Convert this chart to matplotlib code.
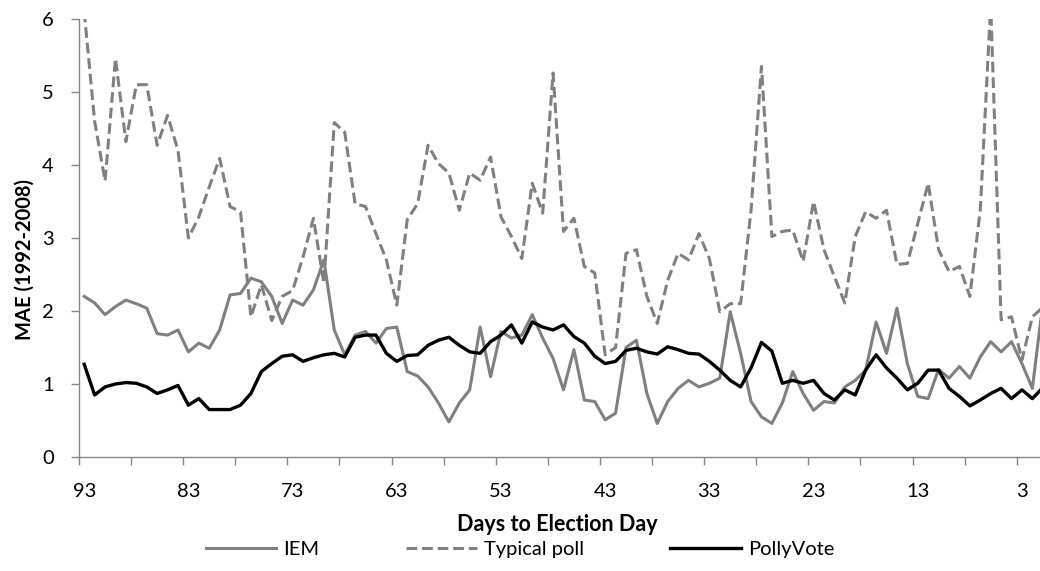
import numpy as np
import matplotlib
matplotlib.use('Agg')
import matplotlib.pyplot as plt

plt.rcParams['font.family'] = ['Lato', 'DejaVu Sans']

days = list(range(93, 0, -1))

iem = [2.2, 2.11, 1.95, 2.06, 2.15, 2.1, 2.04, 1.69, 1.67, 1.74,
       1.44, 1.56, 1.49, 1.74, 2.22, 2.24, 2.45, 2.40, 2.2, 1.83,
       2.15, 2.08, 2.29, 2.7, 1.74, 1.40, 1.67, 1.72, 1.56, 1.76,
       1.78, 1.17, 1.11, 0.96, 0.74, 0.48, 0.74, 0.92, 1.78, 1.10,
       1.72, 1.63, 1.67, 1.95, 1.63, 1.35, 0.92, 1.47, 0.78, 0.76,
       0.51, 0.6, 1.5, 1.6, 0.87, 0.46, 0.76, 0.94, 1.05, 0.96,
       1.01, 1.08, 1.99, 1.42, 0.76, 0.55, 0.46, 0.74, 1.17, 0.87,
       0.64, 0.76, 0.74, 0.96, 1.05, 1.19, 1.85, 1.42, 2.04, 1.28,
       0.83, 0.8, 1.2, 1.08, 1.24, 1.08, 1.37, 1.58, 1.44, 1.58,
       1.28, 0.94, 2.1]

typical_poll = [6.1, 4.6, 3.78, 5.46, 4.32, 5.1, 5.1, 4.27, 4.68, 4.2,
                3.0, 3.29, 3.7, 4.09, 3.43, 3.36, 1.92, 2.36, 1.87, 2.2,
                2.28, 2.74, 3.27, 2.38, 4.58, 4.45, 3.47, 3.43, 3.06, 2.7,
                2.08, 3.25, 3.47, 4.27, 4.02, 3.89, 3.38, 3.89, 3.79, 4.11,
                3.29, 3.02, 2.72, 3.75, 3.34, 5.26, 3.09, 3.27, 2.61, 2.52,
                1.4, 1.5, 2.79, 2.84, 2.2, 1.83, 2.42, 2.79, 2.7, 3.06,
                2.72, 1.99, 2.1, 2.1, 3.38, 5.35, 3.02, 3.09, 3.11, 2.68,
                3.5, 2.84, 2.47, 2.11, 3.02, 3.36, 3.27, 3.38, 2.64, 2.65,
                3.2, 3.75, 2.84, 2.54, 2.61, 2.2, 3.38, 6.2, 1.88, 1.92,
                1.33, 1.92, 2.05]

pollyvote = [1.27, 0.85, 0.96, 1.0, 1.02, 1.01, 0.96, 0.87, 0.92, 0.98,
             0.71, 0.80, 0.65, 0.65, 0.65, 0.71, 0.87, 1.17, 1.28, 1.38,
             1.40, 1.31, 1.36, 1.40, 1.42, 1.37, 1.64, 1.67, 1.67, 1.42,
             1.31, 1.39, 1.40, 1.53, 1.60, 1.64, 1.53, 1.44, 1.42, 1.58,
             1.67, 1.81, 1.56, 1.85, 1.78, 1.74, 1.81, 1.65, 1.56, 1.38,
             1.28, 1.31, 1.46, 1.49, 1.44, 1.41, 1.51, 1.47, 1.42, 1.41,
             1.31, 1.19, 1.05, 0.96, 1.22, 1.57, 1.45, 1.01, 1.05, 1.01,
             1.05, 0.87, 0.78, 0.92, 0.85, 1.19, 1.40, 1.22, 1.08, 0.92,
             1.01, 1.19, 1.19, 0.94, 0.83, 0.70, 0.78, 0.87, 0.94, 0.80,
             0.92, 0.80, 0.95]

tick_days = [93, 83, 73, 63, 53, 43, 33, 23, 13, 3]

gray = '#808080'
axis_gray = '#868686'
fs = 14.5

fig = plt.figure(figsize=(10.4, 5.71), dpi=100)
ax = fig.add_axes([79 / 1040, 114 / 571, 969 / 1040, 438 / 571])

ax.plot(days, iem, color=gray, lw=2.2, solid_joinstyle='round', label='IEM')
ax.plot(days, typical_poll, color=gray, lw=2.2, dashes=(3.5, 1.6), label='Typical poll')
ax.plot(days, pollyvote, color='black', lw=2.4, solid_joinstyle='round', label='PollyVote')

ax.set_xlim(93.5, 0.5)
ax.set_ylim(0, 6)

for s in ['top', 'right']:
    ax.spines[s].set_visible(False)
for s in ['left', 'bottom']:
    ax.spines[s].set_color(axis_gray)
    ax.spines[s].set_linewidth(1.0)

ax.set_yticks(range(0, 7))
ax.tick_params(axis='y', direction='out', length=6, width=1, color=axis_gray,
               labelsize=fs, pad=12)
ax.set_xticks(tick_days)
ax.set_xticklabels([str(d) for d in tick_days])
ax.set_xticks(np.arange(93.5, 0, -5), minor=True)
ax.tick_params(axis='x', which='major', length=0, labelsize=fs, pad=19)
ax.tick_params(axis='x', which='minor', direction='out', length=6, width=1,
               color=axis_gray)

ax.set_xlabel('Days to Election Day', fontsize=15.5, fontweight='bold')
ax.xaxis.set_label_coords(0.494, -0.13)
ax.set_ylabel('MAE (1992-2008)', fontsize=fs, fontweight='bold')
ax.yaxis.set_label_coords(-0.046, 0.45)

fig.legend(loc='center', bbox_to_anchor=(0.5, 0.037), ncol=3, frameon=False,
           fontsize=fs, handlelength=3.5, handletextpad=0.35, columnspacing=4.3,
           borderpad=0)

fig.savefig('out.png', dpi=100)
